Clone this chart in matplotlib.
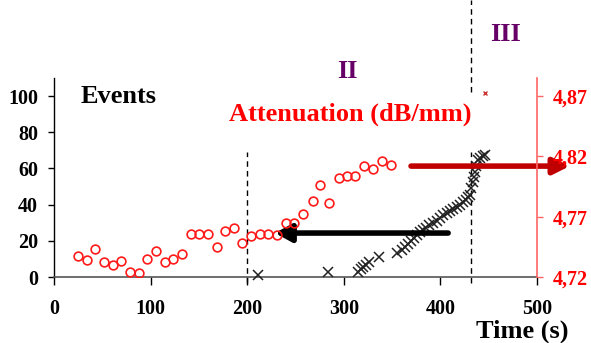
import matplotlib
matplotlib.use("Agg")
import matplotlib.pyplot as plt
from matplotlib.ticker import FixedLocator, FuncFormatter

# ---- data ----
att_time = [24.5, 33.8, 42.4, 51.8, 60.7, 69.4, 78.7, 88.3, 96.0, 105.3, 114.6, 123.2,
            132.5, 141.5, 150.4, 159.4, 169.0, 177.3, 186.7, 195.0, 204.3, 213.6, 222.0,
            231.0, 240.0, 248.8, 258.0, 267.6, 275.6, 285.0, 295.0, 303.0, 311.6, 321.2,
            329.9, 339.2, 348.5]
att_value = [4.7377, 4.7338, 4.7433, 4.7325, 4.7299, 4.7335, 4.7244, 4.7230, 4.7349,
             4.7416, 4.7325, 4.7349, 4.7394, 4.7559, 4.7559, 4.7559, 4.7445, 4.7580,
             4.7604, 4.7484, 4.7536, 4.7560, 4.7560, 4.7545, 4.7646, 4.7646, 4.7724,
             4.7830, 4.7962, 4.7811, 4.8025, 4.8034, 4.8040, 4.8120, 4.8093, 4.8159,
             4.8129]

event_time = [210.9, 284.0, 314.8, 317.5, 320.2, 323.0, 325.7, 336.4, 355.0, 360.2,
              363.4, 366.5, 369.6, 372.7, 375.8, 378.9, 382.0, 385.0, 388.5, 392.3,
              396.0, 399.5, 403.0, 406.8, 410.0, 413.5, 417.0, 420.3, 423.0, 426.0,
              428.5, 430.6, 432.0, 433.7, 434.8, 435.8, 437.3, 438.9, 441.5, 444.0,
              446.2]
event_count = [1.1, 2.9, 2.9, 4.2, 5.5, 6.8, 8.1, 11.0, 13.3, 14.9, 16.6, 18.2, 19.9,
               21.5, 23.2, 24.9, 26.0, 27.2, 28.5, 29.8, 31.2, 32.6, 34.0, 35.4, 36.5,
               37.6, 38.7, 39.8, 41.3, 42.8, 44.0, 45.3, 49.0, 52.5, 55.2, 58.0, 61.3,
               64.6, 65.8, 66.8, 67.4]

x_ticks = [0, 100, 200, 300, 400, 500]
left_ticks = [0, 20, 40, 60, 80, 100]
right_ticks = [4.72, 4.77, 4.82, 4.87]
phase_lines = [200, 432]
phase_labels = ["II", "III"]

# ---- styling ----
SERIF = ["Liberation Serif", "DejaVu Serif"]
plt.rcParams["font.family"] = SERIF
plt.rcParams["font.weight"] = "bold"

fig = plt.figure(figsize=(5.91, 3.43), dpi=100)
ax = fig.add_axes([0.0914, 0.1924, 0.8172, 0.5802])
ax.set_xlim(0, 500)
ax.set_ylim(0, 110)

ax2 = ax.twinx()
ax2.set_ylim(4.72, 4.72 + 0.165)

# events (black x)
ax.plot(event_time, event_count, linestyle="none", marker="x", color="#222222",
        markersize=7, markeredgewidth=1.1, zorder=3, clip_on=False)

# attenuation (red open circles)
ax2.plot(att_time, att_value, linestyle="none", marker="o", markerfacecolor="none",
         markeredgecolor="#ff1a1a", markersize=6.3, markeredgewidth=1.2, zorder=3)

# tiny marks at top near t=446
ax.plot([446], [101.7], linestyle="none", marker="x", color="#cc3333",
        markersize=3, markeredgewidth=1.0, clip_on=False)

# spines
ax.spines["top"].set_visible(False)
ax2.spines["top"].set_visible(False)
ax.spines["right"].set_visible(False)
ax2.spines["left"].set_visible(False)
ax2.spines["bottom"].set_visible(False)
ax.spines["left"].set_color("black")
ax.spines["left"].set_linewidth(1.0)
ax.spines["bottom"].set_color("#555555")
ax.spines["bottom"].set_linewidth(1.2)
ax2.spines["right"].set_color("#ff6666")
ax2.spines["right"].set_linewidth(1.2)

ax.xaxis.set_major_locator(FixedLocator(x_ticks))
ax.yaxis.set_major_locator(FixedLocator(left_ticks))
ax2.yaxis.set_major_locator(FixedLocator(right_ticks))
ax2.yaxis.set_major_formatter(FuncFormatter(lambda v, p: f"{v:.2f}".replace(".", ",")))

ax.tick_params(axis="x", direction="out", length=6, width=1, pad=10,
               labelsize=14.5, colors="black")
ax.tick_params(axis="y", direction="out", length=4.5, width=1, pad=7,
               labelsize=14.5, colors="black")
ax2.tick_params(axis="y", direction="out", length=4, width=1, pad=7,
                labelsize=14.5, colors="#ff6666", labelcolor="#ff0000")
for lab in ax.get_xticklabels() + ax.get_yticklabels() + ax2.get_yticklabels():
    lab.set_fontweight("bold")

# dashed phase boundaries
dash = (0, (4, 3))
ax.plot([phase_lines[0], phase_lines[0]], [-3.3, 69], color="black", lw=1,
        linestyle=dash, clip_on=False, zorder=2)
ax.plot([phase_lines[1], phase_lines[1]], [-3.3, 69], color="black", lw=1,
        linestyle=dash, clip_on=False, zorder=2)
ax.plot([phase_lines[1], phase_lines[1]], [102, 153], color="black", lw=1,
        linestyle=dash, clip_on=False, zorder=2)

# arrows
ax.annotate("", xy=(228.8, 24.3), xytext=(408, 24.3),
            arrowprops=dict(arrowstyle="-|>,head_length=0.6,head_width=0.33",
                            lw=4, color="black", shrinkA=0, shrinkB=0,
                            mutation_scale=16), annotation_clip=False, zorder=4)
ax.annotate("", xy=(534, 61.3), xytext=(369.6, 61.3),
            arrowprops=dict(arrowstyle="-|>,head_length=0.6,head_width=0.3",
                            lw=4, color="#c00000", shrinkA=0, shrinkB=0,
                            mutation_scale=16), annotation_clip=False, zorder=4)

# texts
ax.text(27, 99.5, "Events", fontsize=19, fontweight="bold", color="black",
        ha="left", va="center")
ax.text(432, 90, "Attenuation (dB/mm)", fontsize=19, fontweight="bold",
        color="#ff0000", ha="right", va="center")
ax.text(304, 113.5, phase_labels[0], fontsize=19, fontweight="bold", color="#660066",
        ha="center", va="center", clip_on=False)
ax.text(467, 134, phase_labels[1], fontsize=19, fontweight="bold", color="#660066",
        ha="center", va="center", clip_on=False)
fig.text(522 / 591, 1 - 331 / 343, "Time (s)", fontsize=19, fontweight="bold",
         color="black", ha="center", va="center")

fig.savefig("out.png", dpi=100)
